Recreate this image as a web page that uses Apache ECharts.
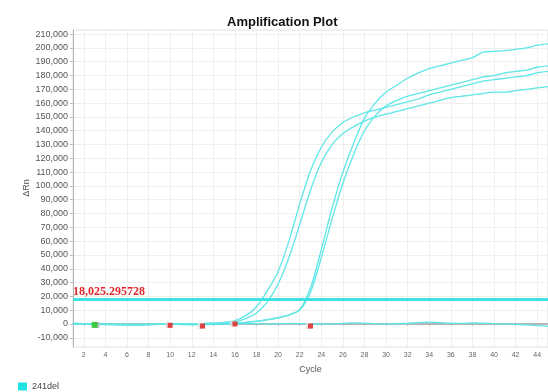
<!DOCTYPE html>
<html>
<head>
<meta charset="utf-8">
<script src="https://cdn.jsdelivr.net/npm/echarts@6/dist/echarts.min.js"></script>
<style>
  html, body { margin: 0; padding: 0; background: #fff; }
  #chart { width: 548px; height: 392px; }
</style>
</head>
<body>
<div id="chart"></div>
<script>
// PCR cycles on the x axis
const cycles = ['1','2','3','4','5','6','7','8','9','10','11','12','13','14','15',
  '16','17','18','19','20','21','22','23','24','25','26','27','28','29','30',
  '31','32','33','34','35','36','37','38','39','40','41','42','43','44','45'];

// ΔRn tick values
const yTicks = [-10000, 0, 10000, 20000, 30000, 40000, 50000, 60000, 70000, 80000, 90000,
  100000, 110000, 120000, 130000, 140000, 150000, 160000, 170000, 180000, 190000, 200000, 210000];

// Amplification curves (ΔRn per cycle)
const wellA = [300, 200, -200, -300, -500, -700, -500, -300, -200, -100, 0, 100, 300, 700, 1200,
  2500, 6000, 12500, 24000, 38000, 60000, 87000, 111000, 128000, 139000, 146000, 150000, 153000, 155000, 157000,
  159000, 161000, 163000, 166000, 168000, 170000, 172000, 174000, 176000, 177000, 178000, 179000, 180000, 182000, 183000];
const wellB = [200, 100, -100, -300, -400, -600, -600, -400, -200, -200, -100, 0, 200, 400, 700,
  1500, 3800, 8000, 16000, 29000, 48000, 72000, 97000, 117000, 130000, 138000, 143000, 147000, 150000, 152000,
  154000, 156000, 158000, 160000, 162000, 164000, 165000, 166000, 167000, 168000, 168000, 169000, 170000, 171000, 172000];
const wellC = [0, -200, -400, -300, -200, -300, -400, -300, -100, 0, -100, -200, -100, 0, 200,
  500, 1000, 1800, 3000, 4300, 6500, 10500, 26000, 54000, 84000, 110000, 131000, 149000, 160000, 168000,
  173000, 178000, 182000, 185000, 187000, 189000, 191000, 193000, 197000, 197500, 198000, 199000, 200000, 202000, 203000];
const wellD = [100, 0, -300, -400, -300, -200, -300, -400, -200, -100, -200, -100, 0, 100, 300,
  600, 1200, 2000, 3200, 4500, 6500, 10000, 23000, 48000, 76000, 102000, 123000, 140000, 151000, 158000,
  162000, 165000, 167000, 169000, 171000, 173000, 175000, 177000, 179000, 180000, 182000, 183000, 184000, 186000, 187000];
const wellNeg = [500, 300, 0, -300, -500, -800, -900, -600, -300, -200, -400, -600, -500, -300, 0,
  200, 300, 200, 0, 200, 400, 300, 0, -200, 0, 400, 800, 600, 200, 0,
  200, 500, 900, 1300, 900, 500, 400, 700, 500, 200, 0, -300, -600, -1200, -1800];

// Threshold
const threshold = 18025.295728;

// Baseline start / end markers
const startCycles = ['3'];
const startValues = [-700];
const endCycles = ['10', '13', '16', '23'];
const endValues = [-1000, -1500, 0, -1500];

const CURVE = '#5fe6e6';
const FONT = 'Liberation Sans, Arial, sans-serif';

function fmt(v) {
  return Number(v).toLocaleString('en-US', { maximumFractionDigits: 6 });
}
const evenOnly = (idx, val) => Number(val) % 2 === 0;

function curve(data, withThreshold) {
  const s = {
    name: '241del',
    type: 'line',
    data: data,
    symbol: 'none',
    smooth: 0.3,
    lineStyle: { color: CURVE, width: 1.3 },
    itemStyle: { color: '#22e3e3' },
    z: 3
  };
  if (withThreshold) {
    s.markLine = {
      silent: true,
      symbol: 'none',
      animation: false,
      lineStyle: { color: '#3fe2e2', width: 3, type: 'solid' },
      label: {
        show: true,
        position: 'insideStartTop',
        distance: [0, 1],
        formatter: () => fmt(threshold),
        color: '#e3262b',
        fontFamily: 'Liberation Serif, Times New Roman, serif',
        fontWeight: 'bold',
        fontSize: 12
      },
      data: [{ yAxis: threshold }]
    };
  }
  return s;
}

function pairs(xs, ys) { return xs.map((x, i) => [x, ys[i]]); }

const chart = echarts.init(document.getElementById('chart'), null, { renderer: 'canvas' });
chart.setOption({
  animation: false,
  backgroundColor: '#fff',
  title: {
    text: 'Amplification Plot',
    left: 222,
    top: 11,
    textStyle: { fontFamily: FONT, fontWeight: 'bold', fontSize: 13, color: '#111' }
  },
  legend: {
    data: ['241del'],
    left: 13,
    top: 377,
    icon: 'rect',
    itemWidth: 9,
    itemHeight: 8,
    itemGap: 4,
    textStyle: { fontFamily: FONT, fontSize: 9, color: '#444' }
  },
  // y-axis title, placed beside the tick labels
  graphic: [{
    type: 'text',
    x: 27,
    y: 188,
    rotation: Math.PI / 2,
    style: {
      text: 'ΔRn',
      align: 'center',
      verticalAlign: 'middle',
      fontFamily: FONT,
      fontSize: 9,
      fill: '#555'
    }
  }],
  grid: {
    left: 73, right: -3, top: 30, bottom: 45,
    show: true, borderColor: '#e2e2e2', borderWidth: 1
  },
  xAxis: {
    type: 'category',
    data: cycles,
    boundaryGap: false,
    name: 'Cycle',
    nameLocation: 'middle',
    nameGap: 18,
    nameTextStyle: { fontFamily: FONT, fontSize: 9, color: '#555' },
    axisLine: { lineStyle: { color: '#b5b5b5', width: 2 } },
    axisTick: { show: true, interval: evenOnly, length: 2, lineStyle: { color: '#bbb' } },
    axisLabel: { interval: evenOnly, fontFamily: FONT, fontSize: 7, color: '#666', margin: 5 },
    splitLine: { show: true, interval: evenOnly, lineStyle: { color: '#efefef', width: 1 } }
  },
  yAxis: {
    type: 'value',
    min: -16700,
    max: 213000,
    axisLine: { show: true, lineStyle: { color: '#b5b5b5', width: 1 } },
    axisTick: { show: true, length: 3, customValues: yTicks, lineStyle: { color: '#bbb' } },
    axisLabel: {
      customValues: yTicks,
      formatter: fmt,
      fontFamily: FONT, fontSize: 9, color: '#555', margin: 5
    },
    splitLine: { show: true, lineStyle: { color: '#efefef', width: 1 } }
  },
  series: [
    curve(wellNeg, true),
    curve(wellA),
    curve(wellB),
    curve(wellC),
    curve(wellD),
    {
      name: 'start-shadow', type: 'scatter', symbol: 'rect', symbolSize: 6,
      symbolOffset: [2, 0],
      itemStyle: { color: '#b9b9b9' },
      data: pairs(startCycles, startValues), z: 4
    },
    {
      name: 'start', type: 'scatter', symbol: 'rect', symbolSize: 6,
      itemStyle: { color: '#1fc41f' },
      data: pairs(startCycles, startValues), z: 5
    },
    {
      name: 'end-shadow', type: 'scatter', symbol: 'rect', symbolSize: 6,
      symbolOffset: [-2, 0],
      itemStyle: { color: '#e7e0e0' },
      data: pairs(endCycles, endValues), z: 4
    },
    {
      name: 'end', type: 'scatter', symbol: 'rect', symbolSize: 5,
      itemStyle: { color: '#e01818' },
      data: pairs(endCycles, endValues), z: 5
    }
  ]
});
</script>
</body>
</html>
